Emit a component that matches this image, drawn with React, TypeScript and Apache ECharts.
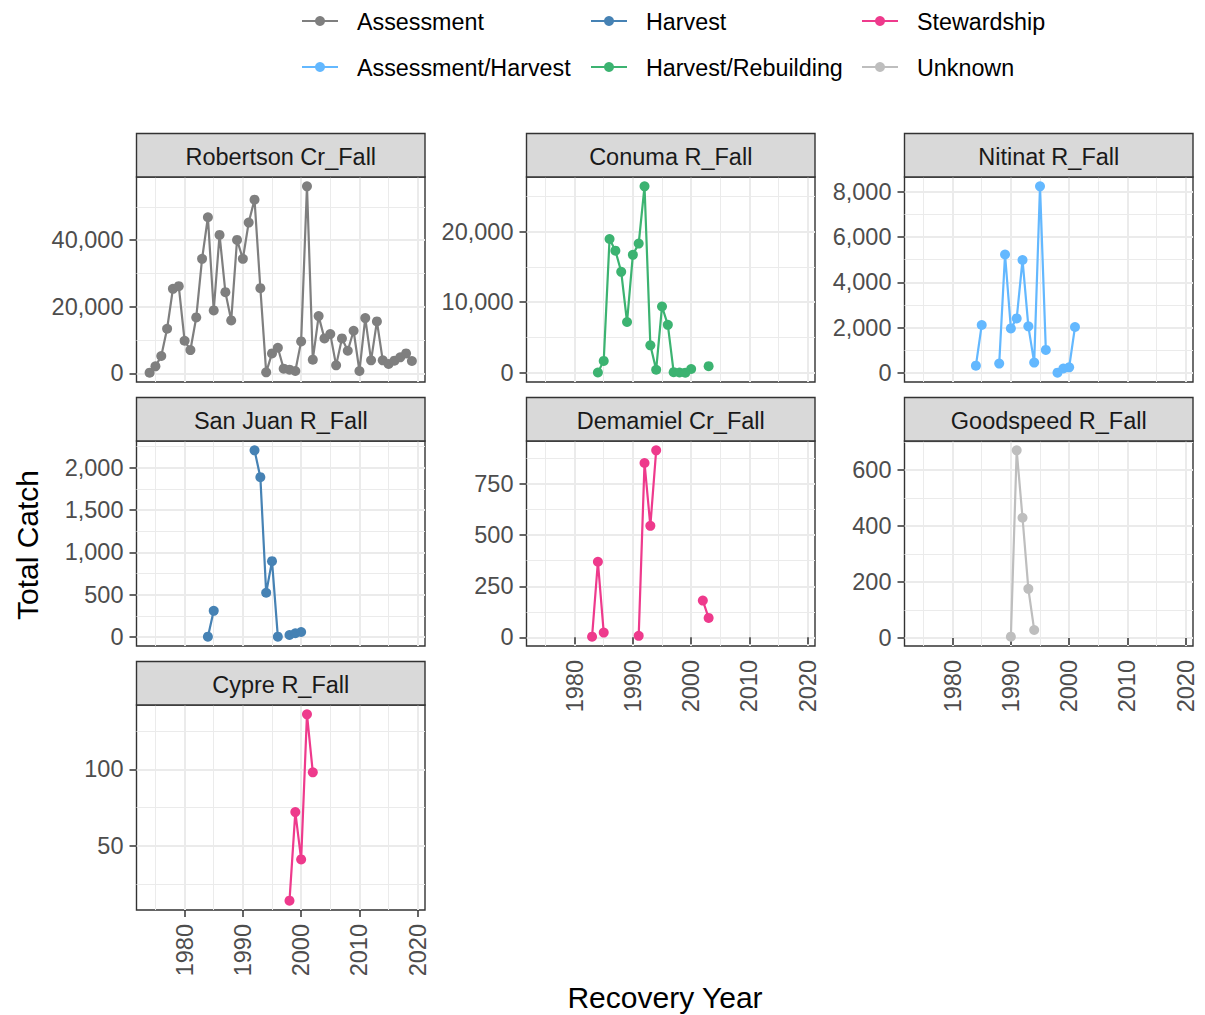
import React, { useEffect, useRef } from "react";
import * as echarts from "echarts";

// ---------- DATA ----------
const robertsonYears = [1974, 1975, 1976, 1977, 1978, 1979, 1980, 1981, 1982, 1983, 1984, 1985, 1986, 1987, 1988, 1989, 1990, 1991, 1992, 1993, 1994, 1995, 1996, 1997, 1998, 1999, 2000, 2001, 2002, 2003, 2004, 2005, 2006, 2007, 2008, 2009, 2010, 2011, 2012, 2013, 2014, 2015, 2016, 2017, 2018, 2019];
const robertsonCatch = [200, 2100, 5200, 13400, 25400, 26200, 9800, 7000, 16800, 34400, 46900, 18900, 41600, 24400, 15900, 40100, 34400, 45300, 52200, 25600, 300, 6000, 7700, 1400, 1100, 700, 9600, 56200, 4100, 17200, 10500, 11800, 2400, 10500, 6800, 12800, 700, 16600, 3900, 15600, 3900, 2800, 3800, 4800, 6000, 3700];

const conumaYears = [1984, 1985, 1986, 1987, 1988, 1989, 1990, 1991, 1992, 1993, 1994, 1995, 1996, 1997, 1998, 1999, 2000, 2001, 2002, 2003];
const conumaCatch = [50, 1700, 18950, 17300, 14300, 7200, 16700, 18300, 26400, 3900, 450, 9400, 6800, 100, 50, 30, 550, null, null, 950];

const nitinatYears = [1984, 1985, 1986, 1987, 1988, 1989, 1990, 1991, 1992, 1993, 1994, 1995, 1996, 1997, 1998, 1999, 2000, 2001];
const nitinatCatch = [326, 2120, null, null, 415, 5230, 1970, 2410, 4990, 2060, 460, 8240, 1020, null, 15, 200, 250, 2030];

const sanJuanYears = [1984, 1985, 1986, 1987, 1988, 1989, 1990, 1991, 1992, 1993, 1994, 1995, 1996, 1997, 1998, 1999, 2000];
const sanJuanCatch = [5, 310, null, null, null, null, null, null, 2206, 1889, 524, 897, 5, null, 25, 45, 60];

const demamielYears = [1983, 1984, 1985, 1986, 1987, 1988, 1989, 1990, 1991, 1992, 1993, 1994, 1995, 1996, 1997, 1998, 1999, 2000, 2001, 2002, 2003];
const demamielCatch = [3, 370, 23, null, null, null, null, null, 7, 854, 546, 916, null, null, null, null, null, null, null, 180, 95];

const goodspeedYears = [1990, 1991, 1992, 1993, 1994];
const goodspeedCatch = [5, 671, 430, 176, 29];

const cypreYears = [1998, 1999, 2000, 2001, 2002];
const cypreCatch = [14, 72, 41, 136, 98];

const categories = ["Assessment", "Assessment/Harvest", "Harvest", "Harvest/Rebuilding", "Stewardship", "Unknown"];
const categoryColors = ["#7F7F7F", "#63B8FF", "#4682B4", "#3CB371", "#EE3A8C", "#BEBEBE"];

const xTicks = [1980, 1990, 2000, 2010, 2020];
const robertsonTicks = [0, 20000, 40000];
const conumaTicks = [0, 10000, 20000];
const nitinatTicks = [0, 2000, 4000, 6000, 8000];
const sanJuanTicks = [0, 500, 1000, 1500, 2000];
const demamielTicks = [0, 250, 500, 750];
const goodspeedTicks = [0, 200, 400, 600];
const cypreTicks = [50, 100];

const panels = [
  { title: "Robertson Cr_Fall", cat: "Assessment", years: robertsonYears, values: robertsonCatch, ticks: robertsonTicks },
  { title: "Conuma R_Fall", cat: "Harvest/Rebuilding", years: conumaYears, values: conumaCatch, ticks: conumaTicks },
  { title: "Nitinat R_Fall", cat: "Assessment/Harvest", years: nitinatYears, values: nitinatCatch, ticks: nitinatTicks },
  { title: "San Juan R_Fall", cat: "Harvest", years: sanJuanYears, values: sanJuanCatch, ticks: sanJuanTicks },
  { title: "Demamiel Cr_Fall", cat: "Stewardship", years: demamielYears, values: demamielCatch, ticks: demamielTicks },
  { title: "Goodspeed R_Fall", cat: "Unknown", years: goodspeedYears, values: goodspeedCatch, ticks: goodspeedTicks },
  { title: "Cypre R_Fall", cat: "Stewardship", years: cypreYears, values: cypreCatch, ticks: cypreTicks },
];

// ---------- LAYOUT ----------
const FONT = '"Liberation Sans", Arial, Helvetica, sans-serif';
const colLeft = [136.5, 526.5, 904.5];
const panelW = 288.5;
const rowTop = [177, 441, 705];
const panelH = 205;
const stripH = 43.5;
const tickFont = 23.5;
const stripFont = 23.5;
const legendFont = 23.3;
const titleFont = 30;

function expand(vals: (number | null)[]): [number, number] {
  const v = vals.filter((d) => d != null) as number[];
  const lo = Math.min(...v);
  const hi = Math.max(...v);
  const r = hi - lo;
  return [lo - 0.05 * r, hi + 0.05 * r];
}

export default function App() {
  const ref = useRef<HTMLDivElement>(null);
  useEffect(() => {
    if (!ref.current) return;
    const chart = echarts.init(ref.current, undefined, { renderer: "svg" });

    const allYears = ([] as number[]).concat(...panels.map((p) => p.years));
    const [xMin, xMax] = expand(allYears);

    const grids: any[] = [];
    const xAxes: any[] = [];
    const yAxes: any[] = [];
    const series: any[] = [];
    const graphics: any[] = [];

    panels.forEach((p, i) => {
      const row = Math.floor(i / 3);
      const col = i % 3;
      const left = colLeft[col];
      const top = rowTop[row];
      const showX = i >= 4;
      grids.push({
        left,
        top,
        width: panelW,
        height: panelH,
        containLabel: false,
        show: true,
        backgroundColor: "#FFFFFF",
        borderColor: "#333333",
        borderWidth: 1.4,
      });
      const xInterval = xTicks[1] - xTicks[0];
      xAxes.push({
        type: "value",
        gridIndex: i,
        min: xMin,
        max: xMax,
        splitNumber: 5,
        minInterval: xInterval,
        maxInterval: xInterval,
        axisLine: { show: false },
        axisTick: {
          show: showX,
          customValues: xTicks,
          length: 7,
          lineStyle: { color: "#333333", width: 1.5 },
        },
        axisLabel: {
          show: showX,
          customValues: xTicks,
          rotate: 90,
          margin: 14,
          fontSize: tickFont,
          fontFamily: FONT,
          color: "#4D4D4D",
          formatter: (v: number) => String(v),
        },
        splitLine: { show: true, lineStyle: { color: "#EBEBEB", width: 2 } },
        minorTick: { show: false, splitNumber: 2 },
        minorSplitLine: { show: true, lineStyle: { color: "#EBEBEB", width: 1 } },
      });
      const [yMin, yMax] = expand(p.values);
      const yInterval = p.ticks[1] - p.ticks[0];
      yAxes.push({
        type: "value",
        gridIndex: i,
        min: yMin,
        max: yMax,
        splitNumber: 4,
        minInterval: yInterval,
        maxInterval: yInterval,
        axisLine: { show: false },
        axisTick: {
          show: true,
          customValues: p.ticks,
          length: 7,
          lineStyle: { color: "#333333", width: 1.5 },
        },
        axisLabel: {
          show: true,
          customValues: p.ticks,
          margin: 13,
          fontSize: tickFont,
          fontFamily: FONT,
          color: "#4D4D4D",
          formatter: (v: number) => v.toLocaleString("en-US"),
        },
        splitLine: { show: true, lineStyle: { color: "#EBEBEB", width: 2 } },
        minorTick: { show: false, splitNumber: 2 },
        minorSplitLine: { show: true, lineStyle: { color: "#EBEBEB", width: 1 } },
      });
      const color = categoryColors[categories.indexOf(p.cat)];
      series.push({
        type: "line",
        name: p.cat,
        xAxisIndex: i,
        yAxisIndex: i,
        data: p.years.map((y, k) => [y, p.values[k]]),
        connectNulls: false,
        symbol: "circle",
        symbolSize: 10,
        showSymbol: true,
        showAllSymbol: true,
        lineStyle: { color, width: 2.2 },
        itemStyle: { color },
        emphasis: { disabled: true },
        z: 5,
      });
      // strip
      graphics.push({
        type: "rect",
        shape: { x: left, y: top - stripH, width: panelW, height: stripH },
        style: { fill: "#D9D9D9", stroke: "#333333", lineWidth: 1.4 },
        z: 10,
      });
      graphics.push({
        type: "text",
        x: left + panelW / 2,
        y: top - stripH / 2 + 1.5,
        style: {
          text: p.title,
          fontSize: stripFont,
          fontFamily: FONT,
          fill: "#1A1A1A",
          textAlign: "center",
          textVerticalAlign: "middle",
        },
        z: 11,
      });
    });

    // Legend (column-major, 3 columns x 2 rows)
    const legColX = [302, 591, 862];
    const legRowY = [21, 67];
    categories.forEach((c, i) => {
      const col = Math.floor(i / 2);
      const row = i % 2;
      const x0 = legColX[col];
      const y0 = legRowY[row];
      const color = categoryColors[i];
      graphics.push({
        type: "line",
        shape: { x1: x0, y1: y0, x2: x0 + 36, y2: y0 },
        style: { stroke: color, lineWidth: 2.2 },
        z: 10,
      });
      graphics.push({
        type: "circle",
        shape: { cx: x0 + 18, cy: y0, r: 5 },
        style: { fill: color },
        z: 11,
      });
      graphics.push({
        type: "text",
        x: x0 + 55,
        y: y0 + 1,
        style: {
          text: c,
          fontSize: legendFont,
          fontFamily: FONT,
          fill: "#000000",
          textAlign: "left",
          textVerticalAlign: "middle",
        },
        z: 11,
      });
    });

    // Axis titles
    graphics.push({
      type: "text",
      x: 665,
      y: 997,
      style: {
        text: "Recovery Year",
        fontSize: titleFont,
        fontFamily: FONT,
        fill: "#000000",
        textAlign: "center",
        textVerticalAlign: "middle",
      },
      z: 11,
    });
    graphics.push({
      type: "text",
      x: 27,
      y: 545,
      rotation: Math.PI / 2,
      style: {
        text: "Total Catch",
        fontSize: titleFont,
        fontFamily: FONT,
        fill: "#000000",
        textAlign: "center",
        textVerticalAlign: "middle",
      },
      z: 11,
    });

    chart.setOption({
      animation: false,
      backgroundColor: "#FFFFFF",
      grid: grids,
      xAxis: xAxes,
      yAxis: yAxes,
      series,
      graphic: graphics,
    });
    return () => chart.dispose();
  }, []);
  return (
    <div
      ref={ref}
      style={{ position: "absolute", left: 0, top: 0, width: 1205, height: 1015 }}
    />
  );
}
